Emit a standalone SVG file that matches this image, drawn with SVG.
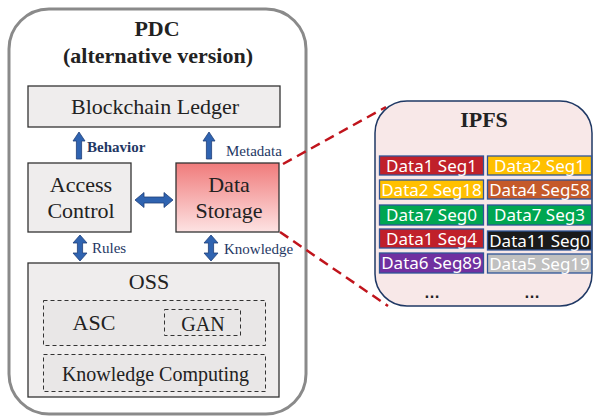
<svg xmlns="http://www.w3.org/2000/svg" width="594" height="419" viewBox="0 0 594 419">
  <defs>
    <linearGradient id="dsFill" x1="0" y1="0" x2="0" y2="1">
      <stop offset="0" stop-color="#f07b7b"/>
      <stop offset="1" stop-color="#fde3e3"/>
    </linearGradient>
    <!-- block arrows, drawn pointing up / both ways around the origin -->
    <path id="upArrow" d="M0,-14 L6,-5 L2.6,-5 L2.6,13 L-2.6,13 L-2.6,-5 L-6,-5 Z"/>
    <path id="vDouble" d="M0,-13 L7,-5 L2.6,-5 L2.6,5 L7,5 L0,13 L-7,5 L-2.6,5 L-2.6,-5 L-7,-5 Z"/>
    <path id="hDouble" d="M-19,0 L-10,-7.5 L-10,-3 L10,-3 L10,-7.5 L19,0 L10,7.5 L10,3 L-10,3 L-10,7.5 Z"/>
  </defs>
  <style>
    .serif { font-family: "Liberation Serif", "Times New Roman", serif; fill: #222; }
    .title { font-weight: bold; font-size: 22px; text-anchor: middle; }
    .box { fill: #efeded; stroke: #333; stroke-width: 1.3; }
    .dash { fill: #e9e7e7; stroke: #333; stroke-width: 1; stroke-dasharray: 4 3; }
    .lbl { font-size: 22px; text-anchor: middle; }
    .small { font-family: "Liberation Serif", serif; font-size: 15px; fill: #1f3864; }
    .arrow { fill: #2f63b0; stroke: #1f3f78; stroke-width: 0.8; }
    .link { stroke: #c0141c; stroke-width: 2.5; stroke-dasharray: 10 6; fill: none; }
    .cell { stroke: #2f5597; stroke-width: 1.3; }
    .ct { font-family: "Noto Sans", "DejaVu Sans", sans-serif; font-size: 17px; fill: #fff; text-anchor: middle; }
  </style>

  <!-- PDC container -->
  <g id="pdc">
    <rect x="9" y="9" width="297" height="405" rx="40" fill="#fff" stroke="#8a8a8a" stroke-width="3"/>
    <text class="serif title" x="157" y="36">PDC</text>
    <text class="serif title" x="158" y="63">(alternative version)</text>
  </g>

  <g id="blockchain-ledger">
    <rect class="box" x="28" y="86" width="252" height="41"/>
    <text class="serif" x="155" y="114" font-size="22" text-anchor="middle">Blockchain Ledger</text>
  </g>

  <g id="access-control">
    <rect class="box" x="28" y="163" width="103" height="69"/>
    <text class="serif lbl" x="81" y="192">Access</text>
    <text class="serif lbl" x="81" y="218">Control</text>
  </g>

  <g id="data-storage">
    <rect x="176" y="163" width="103" height="69" fill="url(#dsFill)" stroke="#333" stroke-width="1.3"/>
    <text class="serif lbl" x="229" y="192">Data</text>
    <text class="serif lbl" x="229" y="218">Storage</text>
  </g>

  <g id="oss">
    <rect class="box" x="28" y="263" width="251" height="134"/>
    <text class="serif" x="149" y="289" font-size="22" text-anchor="middle">OSS</text>
  </g>

  <g id="asc">
    <rect class="dash" x="43.5" y="300.5" width="222" height="45"/>
    <text class="serif" x="94" y="330" font-size="22" text-anchor="middle">ASC</text>
  </g>

  <g id="gan">
    <rect class="dash" x="164.5" y="309.5" width="76" height="26"/>
    <text class="serif" x="203" y="331" font-size="20" text-anchor="middle">GAN</text>
  </g>

  <g id="knowledge-computing">
    <rect class="dash" x="43.5" y="354.5" width="222" height="37"/>
    <text class="serif" x="155.5" y="381" font-size="20" text-anchor="middle">Knowledge Computing</text>
  </g>

  <!-- IPFS store -->
  <g id="ipfs">
    <rect x="375" y="101" width="217" height="205" rx="32" fill="#f8e8e8" stroke="#1f3864" stroke-width="1.5"/>
    <text class="serif title" x="484" y="127">IPFS</text>
    <rect class="cell" x="379.5" y="156" width="104" height="19" fill="#c0202a"/>
    <text class="ct" x="431.5" y="171.5">Data1 Seg1</text>
    <rect class="cell" x="487.5" y="156" width="104" height="19" fill="#ffc000"/>
    <text class="ct" x="539.5" y="171.5">Data2 Seg1</text>
    <rect class="cell" x="379.5" y="180" width="104" height="19" fill="#ffc000"/>
    <text class="ct" x="431.5" y="195.5">Data2 Seg18</text>
    <rect class="cell" x="487.5" y="180" width="104" height="19" fill="#c55a2a"/>
    <text class="ct" x="539.5" y="195.5">Data4 Seg58</text>
    <rect class="cell" x="379.5" y="205" width="104" height="20" fill="#00a651"/>
    <text class="ct" x="431.5" y="221">Data7 Seg0</text>
    <rect class="cell" x="487.5" y="205" width="104" height="20" fill="#00a651"/>
    <text class="ct" x="539.5" y="221">Data7 Seg3</text>
    <rect class="cell" x="379.5" y="229" width="104" height="19" fill="#c0202a"/>
    <text class="ct" x="431.5" y="244.5">Data1 Seg4</text>
    <rect class="cell" x="487.5" y="231" width="104" height="19" fill="#1a1a1a"/>
    <text class="ct" x="539.5" y="246.5">Data11 Seg0</text>
    <rect class="cell" x="379.5" y="253" width="104" height="20" fill="#7030a0"/>
    <text class="ct" x="431.5" y="269">Data6 Seg89</text>
    <rect class="cell" x="487.5" y="254" width="104" height="19" fill="#c0c0c0"/>
    <text class="ct" x="539.5" y="269.5">Data5 Seg19</text>
    <text x="432" y="298" font-family="Liberation Sans, sans-serif" font-size="16" font-weight="bold" text-anchor="middle" fill="#222">…</text>
    <text x="532" y="298" font-family="Liberation Sans, sans-serif" font-size="16" font-weight="bold" text-anchor="middle" fill="#222">…</text>
  </g>

  <!-- connectors -->
  <g id="connectors">
    <use href="#upArrow" class="arrow" x="79" y="146"/>
    <use href="#upArrow" class="arrow" x="209" y="146"/>
    <use href="#hDouble" class="arrow" x="154" y="200"/>
    <use href="#vDouble" class="arrow" x="80" y="248"/>
    <use href="#vDouble" class="arrow" x="211" y="248"/>
    <text class="small" x="87" y="152" font-weight="bold">Behavior</text>
    <text class="small" x="226" y="156">Metadata</text>
    <text class="small" x="92" y="253">Rules</text>
    <text class="small" x="224" y="254">Knowledge</text>
    <line class="link" x1="283" y1="164" x2="386" y2="107"/>
    <line class="link" x1="280" y1="232" x2="388" y2="306"/>
  </g>
</svg>
